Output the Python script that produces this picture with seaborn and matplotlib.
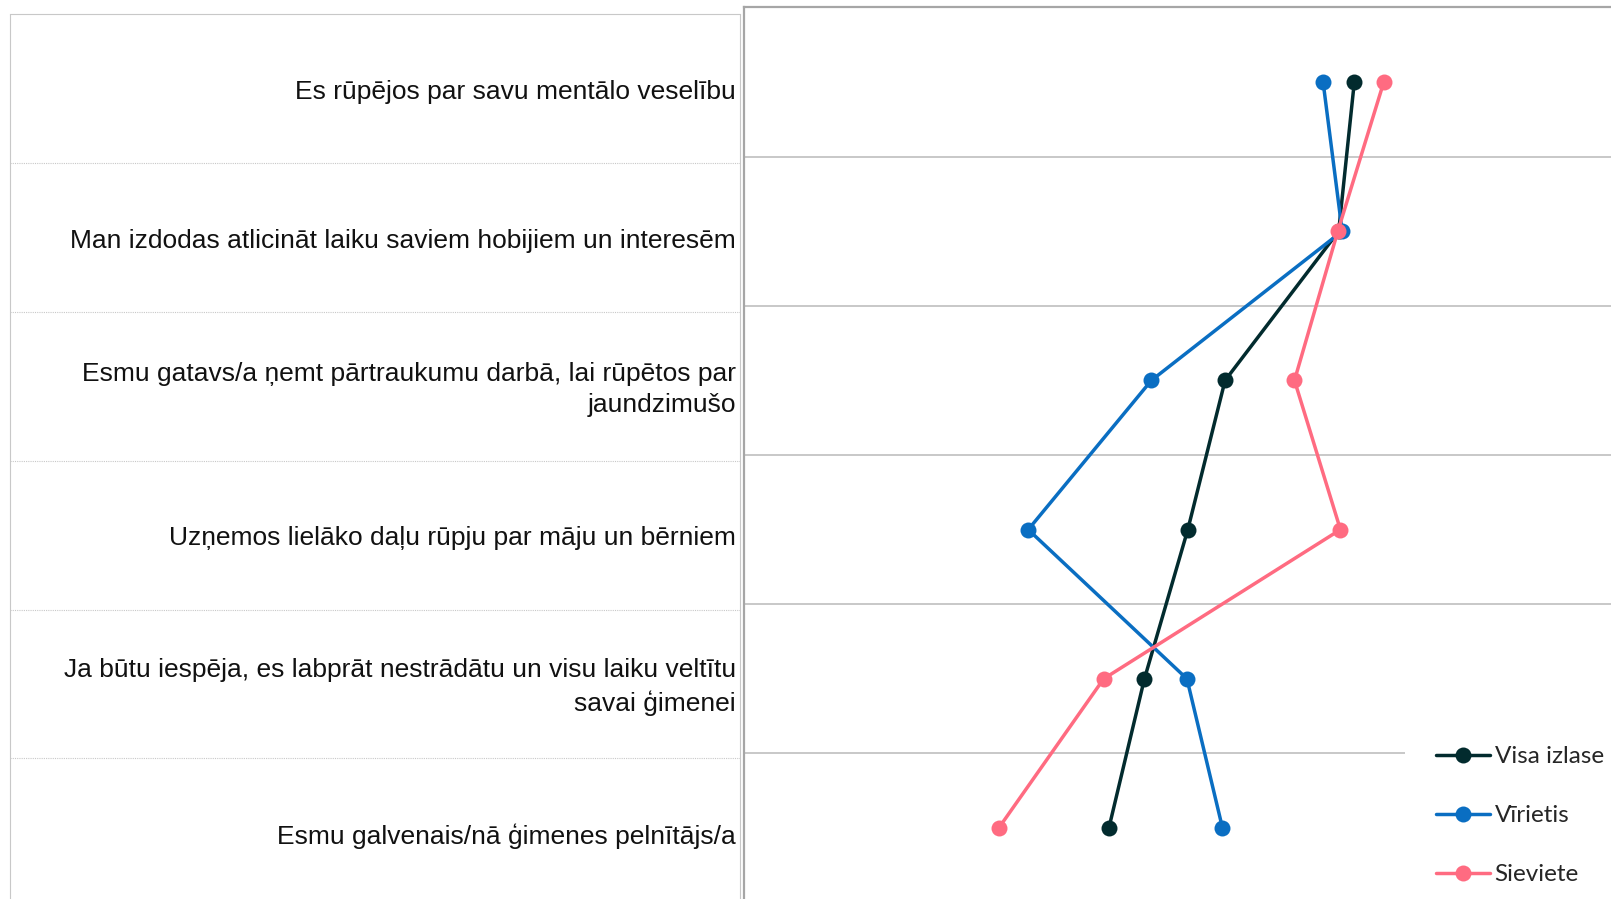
import numpy as np
import pandas as pd
import matplotlib
matplotlib.use("Agg")
import matplotlib.pyplot as plt
import seaborn as sb

statements = [
    "Es rūpējos par savu mentālo veselību",
    "Man izdodas atlicināt laiku saviem hobijiem un interesēm",
    "Esmu gatavs/a ņemt pārtraukumu darbā, lai rūpētos par\njaundzimušo",
    "Uzņemos lielāko daļu rūpju par māju un bērniem",
    "Ja būtu iespēja, es labprāt nestrādātu un visu laiku veltītu\nsavai ģimenei",
    "Esmu galvenais/nā ģimenes pelnītājs/a",
]
groups = ["Visa izlase", "Vīrietis", "Sieviete"]
visa_izlase = [70.4, 68.6, 55.5, 51.2, 46.2, 42.1]
virietis = [66.8, 69.0, 47.0, 32.8, 51.1, 55.2]
sieviete = [73.8, 68.5, 63.5, 68.8, 41.5, 29.4]
colors = ["#022B2E", "#0A6EC2", "#FF6B81"]

rows = []
for g, vals in zip(groups, [visa_izlase, virietis, sieviete]):
    for i, v in enumerate(vals):
        rows.append({"pos": i, "value": v, "group": g})
df = pd.DataFrame(rows)

sb.set_style("white")
plt.rcParams["font.family"] = ["Liberation Sans", "DejaVu Sans"]

fig = plt.figure(figsize=(16.11, 8.99), dpi=100)

# left "table" with the statements
W, H = 1611, 899
t_top, t_band = 14.4, 148.8
ax_t = fig.add_axes([10.3 / W, 1 - (t_top + 6 * t_band) / H,
                     (740 - 10.3) / W, 6 * t_band / H])
ax_t.set_xlim(0, 1)
ax_t.set_ylim(5.5, -0.5)
ax_t.set_xticks([])
ax_t.set_yticks([])
for s in ax_t.spines.values():
    s.set_linestyle((0, (1, 1)))
    s.set_color("#C8C8C8")
    s.set_linewidth(0.8)
for i in range(1, 6):
    ax_t.axhline(i - 0.5, color="#C8C8C8", lw=0.8, ls=(0, (1, 1)))
for i, txt in enumerate(statements):
    ax_t.text(0.9945, i + 0.02, txt, ha="right", va="center", fontsize=19,
              linespacing=1.38, color="#111111")

# right plot
p_top, p_band = 7.4, 149.2
ax = fig.add_axes([743.8 / W, 1 - (p_top + 6 * p_band) / H,
                   (W - 743.8) / W + 0.01, 6 * p_band / H])
sb.lineplot(data=df, x="value", y="pos", hue="group", hue_order=groups,
            palette=colors, orient="y", estimator=None, marker="o",
            markersize=11.5, markeredgewidth=0, linewidth=2.5, ax=ax)
ax.set_xlim(0, 100 * (1 + 0.01 * W / (W - 743.8)))
ax.set_ylim(5.5, -0.5)
for i in range(1, 6):
    ax.axhline(i - 0.5, color="#BFBFBF", lw=1.2, zorder=0)
ax.set_xticks([])
ax.set_yticks([])
ax.set_xlabel("")
ax.set_ylabel("")
for k in ["left", "top"]:
    ax.spines[k].set_color("#A6A6A6")
    ax.spines[k].set_linewidth(1.6)
for k in ["right", "bottom"]:
    ax.spines[k].set_visible(False)

handles, labels = ax.get_legend_handles_labels()
leg = ax.legend(handles, labels, loc="upper left",
                bbox_to_anchor=(1405 / W, 1 - 715 / H),
                bbox_transform=fig.transFigure, frameon=True,
                facecolor="white", edgecolor="none", framealpha=1,
                handlelength=2.2, handletextpad=0.21,
                labelspacing=1.57, borderpad=1.28, borderaxespad=0,
                prop={"family": ["Lato", "DejaVu Sans"], "size": 17.5})
leg.get_frame().set_boxstyle("square", pad=0)

fig.savefig("out.png", dpi=100)
